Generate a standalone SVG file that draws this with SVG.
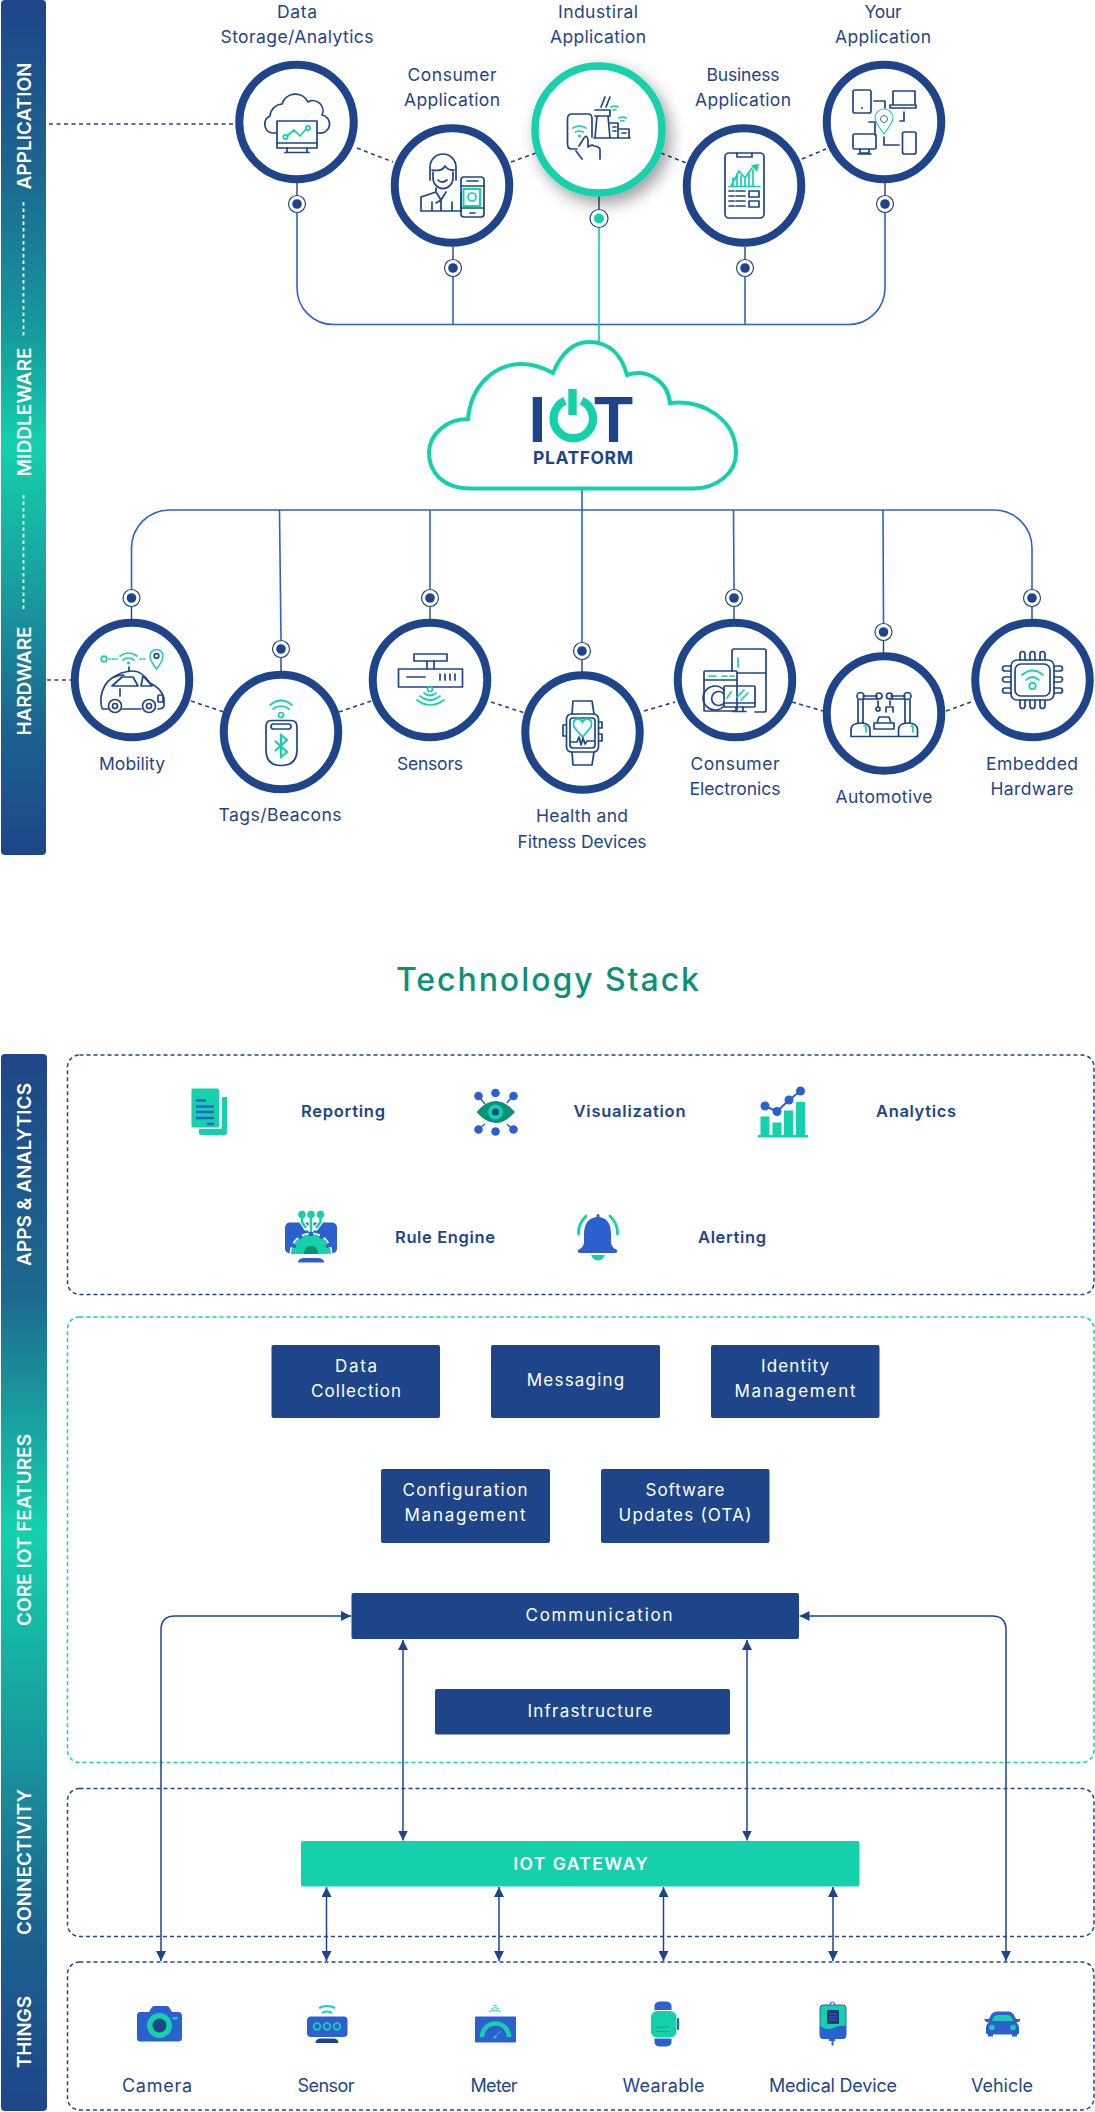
<svg xmlns="http://www.w3.org/2000/svg" width="1095" height="2112" viewBox="0 0 1095 2112">
<style>
text{font-family:Inter,"Noto Sans","Liberation Sans",sans-serif;text-anchor:middle}
.lb{font-size:17.5px;fill:#1e4589;font-weight:400}
.st{font-size:16.5px;fill:#1e4589;font-weight:600}
.wt{font-size:17px;fill:#fff;font-weight:400}
.bar{font-size:19px;fill:#fff;font-weight:600}
.th{font-size:18px;fill:#1e4589;font-weight:400}
.ring{fill:#fff;stroke:#1e4589;stroke-width:8}
.dotO{fill:#fff;stroke:#1e4589;stroke-width:1.2}
.dotI{fill:#1e4589}
.n{fill:none;stroke:#1e4589;stroke-width:1.7;stroke-linejoin:round;stroke-linecap:round}
.t{fill:none;stroke:#14d1ac;stroke-width:1.7;stroke-linecap:round;stroke-linejoin:round}
.link{fill:none;stroke:#1e4589;stroke-width:1.6;stroke-dasharray:4 3.5}
.bus{fill:none;stroke:#2d60cf;stroke-width:1.6}
.stub{stroke:#1e4589;stroke-width:1.4}
.fence{fill:none;stroke:#1e4589;stroke-width:1.5;stroke-dasharray:4 3}
.box{fill:#1e4589}
.arr{fill:none;stroke:#1e4589;stroke-width:1.5;marker-start:url(#ah);marker-end:url(#ah)}
.sep{stroke:#fff;stroke-width:1.8;stroke-dasharray:3.5 3}
.fb{fill:#2d60cf}.ft{fill:#14d1ac}.fn{fill:#1e4589}
</style>
<defs>
<linearGradient id="g1" gradientUnits="userSpaceOnUse" x1="0" y1="0" x2="0" y2="855">
<stop offset="0" stop-color="#1e4589"/><stop offset=".2" stop-color="#1c6690"/><stop offset=".4" stop-color="#159e9f"/><stop offset=".52" stop-color="#14d1ac"/><stop offset=".7" stop-color="#189a9e"/><stop offset=".85" stop-color="#1b6390"/><stop offset="1" stop-color="#1e4589"/></linearGradient>
<linearGradient id="g2" gradientUnits="userSpaceOnUse" x1="0" y1="1054" x2="0" y2="2111">
<stop offset="0" stop-color="#1e4589"/><stop offset=".23" stop-color="#1d6a90"/><stop offset=".45" stop-color="#14d1ac"/><stop offset=".65" stop-color="#189a9e"/><stop offset=".82" stop-color="#1c6490"/><stop offset="1" stop-color="#1e4589"/></linearGradient>
<marker id="ah" markerUnits="userSpaceOnUse" markerWidth="11" markerHeight="10" refX="10" refY="5" orient="auto-start-reverse"><path d="M0 0L10 5L0 10Z" fill="#1e4589"/></marker>
<filter id="sh" x="-30%" y="-30%" width="170%" height="170%"><feDropShadow dx="5" dy="7" stdDeviation="8" flood-color="#000" flood-opacity=".38"/></filter>
</defs>
<rect width="1095" height="2112" fill="#fff"/>

<g id="side-top">
<rect x="1" y="0" width="45" height="855" rx="4" fill="url(#g1)"/>
<line class="sep" x1="23.5" y1="202" x2="23.5" y2="336"/>
<line class="sep" x1="23.5" y1="495" x2="23.5" y2="609"/>
<text class="bar" transform="translate(31 126) rotate(-90)" textLength="127">APPLICATION</text>
<text class="bar" transform="translate(31 412) rotate(-90)" textLength="129">MIDDLEWARE</text>
<text class="bar" transform="translate(31 681) rotate(-90)" textLength="109">HARDWARE</text>
</g>

<g id="connectors">
<path class="bus" d="M297 213V288A36.500 36.500 0 0 0 333.500 324.500H848.500A36.500 36.500 0 0 0 885 288V213"/>
<line class="bus" x1="453" y1="277" x2="453" y2="324.500"/>
<line class="bus" x1="745" y1="277" x2="745" y2="324.500"/>
<line x1="599" y1="228" x2="599" y2="342" stroke="#14d1ac" stroke-width="1.700"/>
<path class="bus" d="M131.500 589V548A38 38 0 0 1 169.500 510H994A38 38 0 0 1 1032 548V589"/>
<line class="bus" x1="279.500" y1="510" x2="281" y2="640"/>
<line class="bus" x1="430" y1="510" x2="430" y2="589"/>
<line class="bus" x1="582" y1="490" x2="582" y2="642"/>
<line class="bus" x1="733.500" y1="510" x2="734" y2="589"/>
<line class="bus" x1="883" y1="510" x2="883.500" y2="623"/>
<g class="stubs">
<line class="stub" x1="297" y1="183" x2="297" y2="196"/><line class="stub" x1="453" y1="247" x2="453" y2="260"/>
<line class="stub" x1="599" y1="196" x2="599" y2="210"/><line class="stub" x1="745" y1="247" x2="745" y2="260"/>
<line class="stub" x1="885" y1="183" x2="885" y2="196"/>
<line class="stub" x1="131.500" y1="606" x2="131.500" y2="620"/><line class="stub" x1="281" y1="657" x2="281" y2="671"/>
<line class="stub" x1="430" y1="606" x2="430" y2="620"/><line class="stub" x1="582" y1="659" x2="582" y2="672"/>
<line class="stub" x1="734" y1="606" x2="734" y2="619"/><line class="stub" x1="883.500" y1="640" x2="883.500" y2="653"/>
<line class="stub" x1="1032" y1="606" x2="1032" y2="619"/>
</g>
<path class="link" d="M49 124H236M357 148L393 162M511 162L536 153M661 153L686 163M802 159L826 149"/>
<path class="link" d="M47 680H71M191 701L224 712M339 712L371 701M491 702L525 713M644 711L675 702M792 702L823 711M946 711L974 701"/>
</g>

<g id="data-storage">
<circle class="ring" cx="296.500" cy="122" r="57.250"/>
<circle class="dotO" cx="297" cy="204" r="8.500"/><circle class="dotI" cx="297" cy="204" r="4.800"/>
<path class="n" d="M276 133H272A9 9 0 0 1 270 116A13 13 0 0 1 282 104A14 14 0 0 1 308 102A10 10 0 0 1 322 115A9 9 0 0 1 319 133H317"/>
<rect class="n" x="277" y="121" width="40" height="27"/><path class="n" d="M277 143H317M287 148V152M307 148V152M285 152.500H309"/>
<path class="t" d="M287 136L294 130L300 136L306 129"/><circle class="t" cx="285.500" cy="137" r="2.200"/><circle class="t" cx="308" cy="128" r="2.200"/>
<text class="lb" x="297" y="18" textLength="40">Data</text><text class="lb" x="297" y="43" textLength="153">Storage/Analytics</text>
</g>
<g id="consumer-application">
<circle class="ring" cx="452" cy="185.500" r="57.250"/>
<circle class="dotO" cx="453" cy="268" r="8.500"/><circle class="dotI" cx="453" cy="268" r="4.800"/>
<path class="n" d="M430 180V167A12 12 0 0 1 456 167V180M432 170Q442 172 445 166Q449 171 454 170M433 172V178A9.500 10 0 0 0 453 178V172M438 180Q442 184 447 180M436 188V192L421 197V211H461V193M436 192L441 200L446 192M441 200V211M438 195L441 200L436 203M432 202V211M452 202V211"/>
<rect class="n" x="461" y="177" width="23" height="40" rx="3"/><path class="n" d="M461 186H484M461 208H484M470 213H475M467 181H478"/>
<rect x="463.500" y="189" width="16.500" height="17" fill="none" stroke="#14d1ac" stroke-width="2"/><circle class="t" cx="472" cy="197" r="4"/>
<text class="lb" x="452" y="81" textLength="89">Consumer</text><text class="lb" x="452" y="106" textLength="96">Application</text>
</g>
<g id="industrial-application">
<circle cx="598.500" cy="129.500" r="63.500" fill="#fff" stroke="#14d1ac" stroke-width="7.500" filter="url(#sh)"/>
<circle cx="599" cy="218.500" r="9" fill="#fff" stroke="#1e4589" stroke-width="1.200"/><circle cx="599" cy="218.500" r="5" fill="#14d1ac"/>
<path class="n" d="M577 149H572Q567.500 149 567.500 144V119Q567.500 114 572 114H588Q592 114 592 119V137M595 138L597 116H608L610 138ZM595 110H610V116H595M594 138H630M610 123H618V138M618 129H629V138M613 127H616M613 131H616M622 133H626M601 107L605 97M606 107L610 97M576 151L582 159M579 146L584 138Q587 134 588 140V147Q592 144 594 146Q598 146 600 149V159"/>
<path class="t" d="M573 128Q579 124 586 128M575.500 132Q579 130 583 132M611 107Q615 105 618 107M613 110Q615 109 616 110M619 118Q623 116 626 118M621 121Q623 120 624 121"/>
<circle class="ft" cx="579.500" cy="136" r="1.500"/>
<text class="lb" x="598" y="18" textLength="80">Industiral</text><text class="lb" x="598" y="43" textLength="96">Application</text>
</g>
<g id="business-application">
<circle class="ring" cx="744" cy="185.500" r="57.250"/>
<circle class="dotO" cx="745" cy="268" r="8.500"/><circle class="dotI" cx="745" cy="268" r="4.800"/>
<rect class="n" x="725" y="153" width="39" height="65" rx="4" stroke-width="2"/><path class="n" d="M737 153V157H752V153M729 191H734M736 191H745M729 196H734M736 196H745M729 201H734M736 201H745M729 206H734M736 206H745"/>
<rect class="n" x="749" y="191" width="10" height="6"/><rect class="n" x="749" y="201" width="10" height="6"/>
<path class="t" d="M729 186.500H760M731 186L739 171L745 178L752 168M733 186V178M737 186V174M741 186V176M745 186V179M749 186V174M753 186V170"/><path class="ft" d="M751 165L759 164L757 172Z"/>
<text class="lb" x="743" y="81" textLength="73">Business</text><text class="lb" x="743" y="106" textLength="96">Application</text>
</g>
<g id="your-application">
<circle class="ring" cx="884" cy="122" r="57.250"/>
<circle class="dotO" cx="885" cy="204" r="8.500"/><circle class="dotI" cx="885" cy="204" r="4.800"/>
<rect class="n" x="853" y="90" width="18" height="23" rx="2"/><circle cx="862" cy="108" r="1" class="fn"/>
<path class="n" d="M893 105V91H915V105M890 105H916V108H890ZM874 101H885V108M904 112V121H900M875 135V122H869M884 137V145H899"/>
<rect class="n" x="853" y="134" width="23" height="15" rx="1.500"/><path class="n" d="M860 149V153H869V149M858 154H871"/>
<rect class="n" x="902.500" y="132" width="13.500" height="22" rx="2"/>
<path d="M884 134Q875 122 875 118A9 9 0 0 1 893 118Q893 122 884 134Z" fill="none" stroke="#14d1ac" stroke-width="1.100"/><circle cx="884" cy="119" r="3.500" fill="none" stroke="#1e4589" stroke-width=".8"/>
<text class="lb" x="883" y="18" textLength="37">Your</text><text class="lb" x="883" y="43" textLength="96">Application</text>
</g>

<g id="iot-platform">
<path d="M470 488.500C441 488.500 429 470 429 453C429 434 447 419 468 419C471 385 495 364 521 364C533 364 544 368 553 373C561 354 572 342 589 342C610 342 622 356 627 375C648 368 668 382 670 403C705 399 736 421 736 453C736 473 717 488.500 693 488.500Z" fill="#fff" stroke="#14d1ac" stroke-width="4"/>
<text x="537.500" y="441.700" style="font-family:'Liberation Sans',Arial,sans-serif;font-size:64px;font-weight:700;fill:#1e4589">I</text>
<text x="613.500" y="441.700" style="font-family:'Liberation Sans',Arial,sans-serif;font-size:64px;font-weight:700;fill:#1e4589">T</text>
<path d="M565 400.700A19.700 19.700 0 1 0 581.600 400.700" fill="none" stroke="#14d1ac" stroke-width="8.300"/>
<rect x="568.300" y="389" width="8.400" height="26" fill="#14d1ac"/>
<text x="583" y="464" style="font-size:17.500px;font-weight:700;fill:#1e4589" textLength="100">PLATFORM</text>
</g>

<g id="mobility">
<circle class="ring" cx="132" cy="680" r="57.250"/>
<circle class="dotO" cx="131.500" cy="598" r="8.500"/><circle class="dotI" cx="131.500" cy="598" r="4.800"/>
<path class="n" d="M108 709H103Q100.500 708 101 697Q103 684 112 678Q122 671 133 671Q142 671 150 683Q161 688 164 698V706Q163 709 158 709M122 709H141M112 678Q118 675 124 675M112 686H138L133 677H122ZM141 686H152L143 676ZM120 689V696M129 671V667"/>
<circle class="n" cx="115" cy="706" r="6.500"/><circle class="n" cx="115" cy="706" r="2.500"/><circle class="n" cx="149" cy="706" r="6.500"/><circle class="n" cx="149" cy="706" r="2.500"/>
<rect class="n" x="158" y="695" width="5" height="7" rx="1"/>
<circle class="t" cx="104" cy="659" r="2.800"/><path class="t" d="M109 659H117M140 659H147" stroke-dasharray="1.500 2"/>
<path class="t" d="M120 656Q128.500 650 137 656M123 660Q128.500 656 134 660"/><circle class="ft" cx="128.500" cy="663" r="1.500"/>
<path d="M156.500 669Q150 661 150 656A6.500 6.500 0 0 1 163 656Q163 661 156.500 669Z" fill="none" stroke="#14d1ac" stroke-width="1.500"/><circle class="n" cx="156.500" cy="656" r="2.300"/>
<text class="lb" x="132" y="770" textLength="66">Mobility</text>
</g>
<g id="tags-beacons">
<circle class="ring" cx="281" cy="732" r="57.250"/>
<circle class="dotO" cx="281" cy="649" r="8.500"/><circle class="dotI" cx="281" cy="649" r="4.800"/>
<path class="n" d="M271 720.500H291Q297 720.500 297 727V750Q297 765.500 281 765.500Q266 765.500 266 750V727Q266 720.500 271 720.500Z"/>
<rect class="n" x="271" y="724" width="20" height="5" rx="2.500" fill="#8aa0c8"/>
<path class="t" d="M270 705Q281 696 292 705M273 709Q281 703 289 709"/><circle class="t" cx="281" cy="715" r="2.500"/>
<path d="M275 741L287 752L281 757V735L287 740L275 751" fill="none" stroke="#14d1ac" stroke-width="2.200"/>
<text class="lb" x="280" y="821" textLength="123">Tags/Beacons</text>
</g>
<g id="sensors">
<circle class="ring" cx="430" cy="680" r="57.250"/>
<circle class="dotO" cx="430" cy="598" r="8.500"/><circle class="dotI" cx="430" cy="598" r="4.800"/>
<rect class="n" x="414" y="654" width="33" height="7"/><path class="n" d="M427 661V669M434 661V669M407 677H425M440 674V680M445 674V680M450 674V680M455 674V680"/>
<rect class="n" x="398.500" y="669" width="64" height="18"/>
<circle class="t" cx="430" cy="689" r="2.500"/><path class="t" d="M424 693Q430 698 436 693M420 696Q430 704 440 696M417 700Q430 710 444 700"/>
<text class="lb" x="430" y="770" textLength="66">Sensors</text>
</g>
<g id="health-fitness">
<circle class="ring" cx="582.500" cy="732.500" r="57.250"/>
<circle class="dotO" cx="582" cy="651" r="8.500"/><circle class="dotI" cx="582" cy="651" r="4.800"/>
<rect class="n" x="566.500" y="714" width="32" height="38" rx="5"/><rect class="n" x="570" y="718" width="25" height="30" rx="3"/>
<path class="n" d="M572 714L573 701H592L594 714M572 752L573 765H592L594 752M566 725H563V736H566M599 722H602V728H599M599 734H602V741H599"/>
<path d="M582.500 737L574 727Q572 719 578 719Q581 719 582.500 722Q584 719 587 719Q593 719 591 727Z" fill="none" stroke="#14d1ac" stroke-width="1.800"/>
<path class="n" d="M571 742H577L579 737L581 745L583 738L585 744L587 741H594" stroke-width="1.200"/>
<text class="lb" x="582" y="822" textLength="92">Health and</text><text class="lb" x="582" y="848" textLength="129">Fitness Devices</text>
</g>
<g id="consumer-electronics">
<circle class="ring" cx="735" cy="680" r="57.250"/>
<circle class="dotO" cx="734" cy="598" r="8.500"/><circle class="dotI" cx="734" cy="598" r="4.800"/>
<path class="n" d="M732 671V651Q732 649 734 649H764Q766 649 766 651V710Q766 712 764 712H755M737 673H766"/>
<rect class="n" x="704" y="671" width="33" height="40" rx="1"/><path class="n" d="M704 680H737"/>
<path class="t" d="M709 676H716M722 676H727M730 676H734M738 658V667M727 698L731 692M737 697L744 690M741 700L748 693"/>
<path class="n" d="M724 690A12 12 0 1 0 724 706M724 694A7 7 0 1 0 724 703"/>
<rect class="n" x="724" y="686" width="31" height="21" rx="1" fill="#fff"/><path class="n" d="M724 703H755M736 707V711M743 707V711M733 711.500H746"/>
<text class="lb" x="735" y="770" textLength="89">Consumer</text><text class="lb" x="735" y="795" textLength="91">Electronics</text>
</g>
<g id="automotive">
<circle class="ring" cx="884" cy="713.500" r="57.250"/>
<circle class="dotO" cx="883.500" cy="632" r="8.500"/><circle class="dotI" cx="883.500" cy="632" r="4.800"/>
<path class="n" d="M851 736.500H917.500M851 736V730Q851 723 861 723Q870 723 870 730V736M898.500 736V730Q898.500 723 908 723Q917.500 723 917.500 730V736M858 723V700M863 723V700M905 723V700M910 723V700M863 696H877M863 699H877M891 696H905M891 699H905M878 701V707M890 701V705"/>
<circle class="n" cx="860.500" cy="696" r="3.500" fill="#fff"/><circle class="n" cx="879" cy="696" r="3"/><circle class="n" cx="907.500" cy="696" r="3.500"/><circle class="n" cx="889.500" cy="696" r="3"/>
<circle class="n" cx="878" cy="709" r="2"/><path class="n" d="M886 712V707H893V712"/>
<path class="n" d="M877 723L879 717H889L891 723ZM874 723H894V729H874Z"/>
<path class="t" d="M864 726H866V732M911 726H913V732"/>
<text class="lb" x="884" y="803" textLength="97">Automotive</text>
</g>
<g id="embedded-hardware">
<circle class="ring" cx="1032.500" cy="680" r="57.250"/>
<circle class="dotO" cx="1032" cy="598" r="8.500"/><circle class="dotI" cx="1032" cy="598" r="4.800"/>
<rect class="n" x="1011" y="660" width="43" height="40" rx="6"/><rect class="n" x="1015" y="664" width="35" height="32" rx="6"/>
<path class="n" d="M1020 660V654A2.500 2.500 0 0 1 1025 654V660M1030 660V654A2.500 2.500 0 0 1 1035 654V660M1040 660V654A2.500 2.500 0 0 1 1045 654V660M1020 700V706A2.500 2.500 0 0 0 1025 706V700M1030 700V706A2.500 2.500 0 0 0 1035 706V700M1040 700V706A2.500 2.500 0 0 0 1045 706V700M1011 666H1005A2.500 2.500 0 0 0 1005 671H1011M1011 677H1005A2.500 2.500 0 0 0 1005 682H1011M1011 688H1005A2.500 2.500 0 0 0 1005 693H1011M1054 666H1060A2.500 2.500 0 0 1 1060 671H1054M1054 677H1060A2.500 2.500 0 0 1 1060 682H1054M1054 688H1060A2.500 2.500 0 0 1 1060 693H1054"/>
<path class="t" d="M1022 675Q1032.500 666 1043 675M1026 680Q1032.500 674 1039 680"/><circle class="t" cx="1032.500" cy="686" r="3.200"/>
<text class="lb" x="1032" y="770" textLength="92">Embedded</text><text class="lb" x="1032" y="795" textLength="83">Hardware</text>
</g>

<text id="title" x="547.500" y="990.500" textLength="303" style="font-size:32px;font-weight:500;fill:#0a9178">Technology Stack</text>

<g id="side-bottom">
<rect x="1" y="1054" width="46" height="1057" rx="4" fill="url(#g2)"/>
<text class="bar" transform="translate(31 1174.500) rotate(-90)" textLength="183">APPS &amp; ANALYTICS</text>
<text class="bar" transform="translate(31 1530) rotate(-90)" textLength="192">CORE IOT FEATURES</text>
<text class="bar" transform="translate(31 1862) rotate(-90)" textLength="146">CONNECTIVITY</text>
<text class="bar" transform="translate(31 2032) rotate(-90)" textLength="72">THINGS</text>
</g>

<g id="fences">
<rect class="fence" x="67.500" y="1055" width="1026.500" height="239.500" rx="12"/>
<rect class="fence" x="67.500" y="1317" width="1026.500" height="445.500" rx="12" style="stroke:#14d1ac"/>
<rect class="fence" x="67.500" y="1788.500" width="1026.500" height="148" rx="12"/>
<rect class="fence" x="67.500" y="1962" width="1026.500" height="148" rx="12"/>
</g>

<g id="reporting">
<path class="ft" d="M206 1097H227V1133Q227 1135 225 1135H201Q199 1135 199 1133V1129H220Q222 1129 222 1127V1097Z"/>
<rect class="ft" x="191.500" y="1088.500" width="27.500" height="39" rx="1.500"/>
<path d="M196 1100.500H206M196 1106.500H214M196 1112H214M196 1118H214M207 1124H214" stroke="#2d60cf" stroke-width="2.400"/>
<text class="st" x="343" y="1117" textLength="84">Reporting</text>
</g>
<g id="visualization">
<path d="M476.500 1112Q495.500 1090 515 1112Q495.500 1134 476.500 1112Z" fill="#0a9178"/><circle class="ft" cx="495.500" cy="1112" r="7.500"/><circle class="fn" cx="495.500" cy="1112" r="3.500"/>
<circle class="fb" cx="478.500" cy="1096" r="4.300"/><circle class="fb" cx="495.500" cy="1093" r="4.300"/><circle class="fb" cx="513.500" cy="1096" r="4.300"/><circle class="fb" cx="478.500" cy="1129.500" r="4.300"/><circle class="fb" cx="495.500" cy="1131.500" r="4.300"/><circle class="fb" cx="513.500" cy="1129.500" r="4.300"/>
<path d="M480 1098L485 1104M511 1098L507 1103M480 1128L485 1124M511 1128L507 1124" stroke="#2d60cf" stroke-width="1.500"/>
<text class="st" x="629.500" y="1117" textLength="112">Visualization</text>
</g>
<g id="analytics">
<path class="ft" d="M760.500 1116.500H769.500V1135H760.500ZM772.500 1122.500H781.500V1135H772.500ZM784 1110.500H793V1135H784ZM796 1102H805V1135H796ZM758 1135H808V1137.500H758Z"/>
<path d="M765 1106L777 1111.500L789 1100L800.500 1091" fill="none" stroke="#2d60cf" stroke-width="2"/>
<circle class="fb" cx="765" cy="1106" r="4.500"/><circle class="fb" cx="777" cy="1111.500" r="4.500"/><circle class="fb" cx="789" cy="1100" r="4.500"/><circle class="fb" cx="800.500" cy="1091" r="4.500"/>
<text class="st" x="916" y="1117" textLength="80">Analytics</text>
</g>
<g id="rule-engine">
<rect class="fb" x="285" y="1222.500" width="52" height="31" rx="5"/><path class="fb" d="M298 1262.500Q298 1258 305 1258H317Q324 1258 324 1262.500Z"/>
<path d="M293 1254A18 18 0 0 1 329 1254" fill="none" stroke="#fff" stroke-width="7" stroke-dasharray="6 4"/>
<path d="M295 1254Q295 1236 311 1236Q327 1236 327 1254Z" fill="#14d1ac"/>
<path d="M293 1254A18 18 0 0 1 329 1254" fill="none" stroke="#14d1ac" stroke-width="4" stroke-dasharray="6 4"/>
<path d="M304 1254Q304 1246 311 1246Q318 1246 318 1254Z" fill="#0a9178"/>
<path d="M302 1214V1222L306 1228H316L320.500 1222V1214M311 1214V1232" fill="none" stroke="#fff" stroke-width="5"/>
<path d="M302 1214V1222L306 1228M320.500 1214V1222L316 1228M311 1214V1232" fill="none" stroke="#14d1ac" stroke-width="2.500"/>
<circle class="ft" cx="302" cy="1214.500" r="3.800"/><circle class="ft" cx="311" cy="1214.500" r="3.800"/><circle class="ft" cx="320.500" cy="1214.500" r="3.800"/>
<text class="st" x="445" y="1242.500" textLength="100">Rule Engine</text>
</g>
<g id="alerting">
<path class="fb" d="M596.500 1217V1215Q598 1213 599.500 1215V1217Q611 1219 611 1234V1243Q612 1248 617 1250Q618 1253 615 1253H580Q577 1253 578 1250Q583 1248 584 1243V1234Q584 1219 596.500 1217Z"/>
<path class="ft" d="M591 1255H605Q603 1260.500 598 1260.500Q593 1260.500 591 1255Z"/>
<path d="M586 1216Q578 1224 578.500 1234M610 1216Q618 1224 617.500 1234" fill="none" stroke="#14d1ac" stroke-width="2.800" stroke-linecap="round"/>
<text class="st" x="732" y="1242.500" textLength="68">Alerting</text>
</g>

<g id="data-collection"><rect class="box" x="271.500" y="1345" width="168.500" height="73" rx="2"/><text class="wt" x="356" y="1372" textLength="42">Data</text><text class="wt" x="356" y="1397" textLength="90">Collection</text></g>
<g id="messaging"><rect class="box" x="491" y="1345" width="169" height="73" rx="2"/><text class="wt" x="575.500" y="1386" textLength="97.500">Messaging</text></g>
<g id="identity-management"><rect class="box" x="711" y="1345" width="168.500" height="73" rx="2"/><text class="wt" x="795" y="1372" textLength="68">Identity</text><text class="wt" x="795" y="1397" textLength="121">Management</text></g>
<g id="configuration-management"><rect class="box" x="381" y="1469" width="169" height="74" rx="2"/><text class="wt" x="465" y="1496" textLength="125">Configuration</text><text class="wt" x="465" y="1521" textLength="121">Management</text></g>
<g id="software-updates"><rect class="box" x="601" y="1469" width="168.500" height="74" rx="2"/><text class="wt" x="685" y="1496" textLength="79">Software</text><text class="wt" x="685" y="1521" textLength="133">Updates (OTA)</text></g>
<g id="communication"><rect class="box" x="351.500" y="1593" width="447.500" height="46" rx="2"/><text class="wt" x="599" y="1621" textLength="147">Communication</text></g>
<g id="infrastructure"><rect class="box" x="435" y="1689" width="295" height="45.500" rx="2"/><text class="wt" x="590" y="1717" textLength="125">Infrastructure</text></g>
<g id="iot-gateway"><rect x="301" y="1841" width="558.500" height="45.500" rx="2" fill="#14d1ac"/><text x="580.500" y="1870" textLength="134.500" style="font-size:17.500px;font-weight:600;fill:#fff">IOT GATEWAY</text></g>

<g id="stack-connectors">
<path class="arr" d="M351 1616H175Q161 1616 161 1630V1961"/>
<path class="arr" d="M799.500 1616H992Q1006 1616 1006 1630V1961"/>
<path class="arr" d="M403 1640V1840.500"/>
<path class="arr" d="M747 1640V1840.500"/>
<path class="arr" d="M326.500 1887V1961"/>
<path class="arr" d="M499 1887V1961"/>
<path class="arr" d="M663.500 1887V1961"/>
<path class="arr" d="M833 1887V1961"/>
</g>

<g id="camera">
<path class="fb" d="M140 2012H149L152 2007Q153 2006 155 2006H166Q168 2006 169 2007L172 2012H178Q182 2012 182 2016V2038Q182 2041.500 178 2041.500H140Q137 2041.500 137 2038V2016Q137 2012 140 2012Z"/>
<circle class="ft" cx="159.500" cy="2025.500" r="12.500"/><circle class="fn" cx="159.500" cy="2025.500" r="7"/><rect class="ft" x="172.500" y="2017" width="5" height="2.500"/>
<text class="th" x="157" y="2092" textLength="70">Camera</text>
</g>
<g id="sensor">
<rect class="fb" x="307" y="2016.500" width="40.500" height="20.500" rx="4"/>
<path class="fn" d="M315.500 2043Q315.500 2039 320 2038.500H334Q338.500 2039 338.500 2043Z"/>
<circle cx="317" cy="2026.500" r="3.300" fill="#2d60cf" stroke="#14d1ac" stroke-width="1.800"/><circle cx="327" cy="2026.500" r="3.300" fill="#2d60cf" stroke="#14d1ac" stroke-width="1.800"/><circle cx="337" cy="2026.500" r="3.300" fill="#2d60cf" stroke="#14d1ac" stroke-width="1.800"/>
<path d="M319 2008Q327 2004 335 2008M322 2013Q327 2010 332 2013" fill="none" stroke="#14d1ac" stroke-width="2.200"/>
<text class="th" x="326" y="2092" textLength="57">Sensor</text>
</g>
<g id="meter">
<rect class="fb" x="475" y="2016.500" width="41" height="26" rx="1"/>
<path d="M482 2037A13.500 13.500 0 0 1 509 2037" fill="none" stroke="#14d1ac" stroke-width="4.500"/>
<path d="M495 2037L501 2031" stroke="#14d1ac" stroke-width="1"/><circle class="ft" cx="495" cy="2037" r="1.500"/>
<path d="M489 2012Q495 2008.500 501 2012M491 2009Q495 2006 499 2009M493 2006Q495 2004.500 497 2006" fill="none" stroke="#14d1ac" stroke-width=".9"/>
<text class="th" x="494" y="2092" textLength="47">Meter</text>
</g>
<g id="wearable">
<path class="fb" d="M654.500 2010V2005Q656 2001.500 660 2001.500H666Q670 2001.500 671.500 2005V2010ZM654.500 2038.500V2043Q656 2046.500 660 2046.500H666Q670 2046.500 671.500 2043V2038.500Z"/>
<rect class="ft" x="651" y="2011" width="25.500" height="26.500" rx="6"/><rect class="fb" x="677" y="2018" width="2.200" height="12" rx="1"/>
<path d="M656 2027H670M656 2031.500H670" stroke="#2d8fc0" stroke-width="1"/>
<text class="th" x="663.500" y="2092" textLength="82">Wearable</text>
</g>
<g id="medical-device">
<rect x="820" y="2005" width="26" height="33.500" rx="3" fill="#14d1ac" stroke="#2d60cf" stroke-width="1"/>
<path class="fb" d="M820 2026Q826 2031 833 2028Q840 2025 846 2026V2035Q846 2038.500 843 2038.500H823Q820 2038.500 820 2035Z"/>
<rect x="827" y="2010" width="12" height="14" rx="1" fill="#1d3a78"/><path d="M829 2014H837M829 2017H837M829 2020H837" stroke="#2d60cf" stroke-width="1.200"/>
<path d="M830 2005Q830 2002 832.500 2002Q835 2002 835 2005" fill="none" stroke="#2d60cf" stroke-width="1"/>
<path d="M829 2038.500H835V2041H833.500V2045.500H831.500V2041H829Z" fill="#2d60cf"/>
<text class="th" x="833" y="2092" textLength="128">Medical Device</text>
</g>
<g id="vehicle">
<path class="fb" d="M990 2017Q992 2011.500 997 2011.500H1008Q1013 2011.500 1015 2017L1016 2019H1020.500L1019 2022L1016 2022.500Q1019 2024 1019 2028V2033Q1019 2034 1017 2034.500V2036.500H1012V2034.500H993V2036.500H988V2034.500Q986 2034 986 2033V2028Q986 2024 989 2022.500L986 2022L984 2019H989Z"/>
<path class="ft" d="M992 2021Q993 2015 998 2015H1007Q1012 2015 1013 2021Z"/>
<circle class="ft" cx="992" cy="2027.500" r="2.800"/><circle class="ft" cx="1013" cy="2027.500" r="2.800"/>
<text class="th" x="1002" y="2092" textLength="62">Vehicle</text>
</g>
</svg>
